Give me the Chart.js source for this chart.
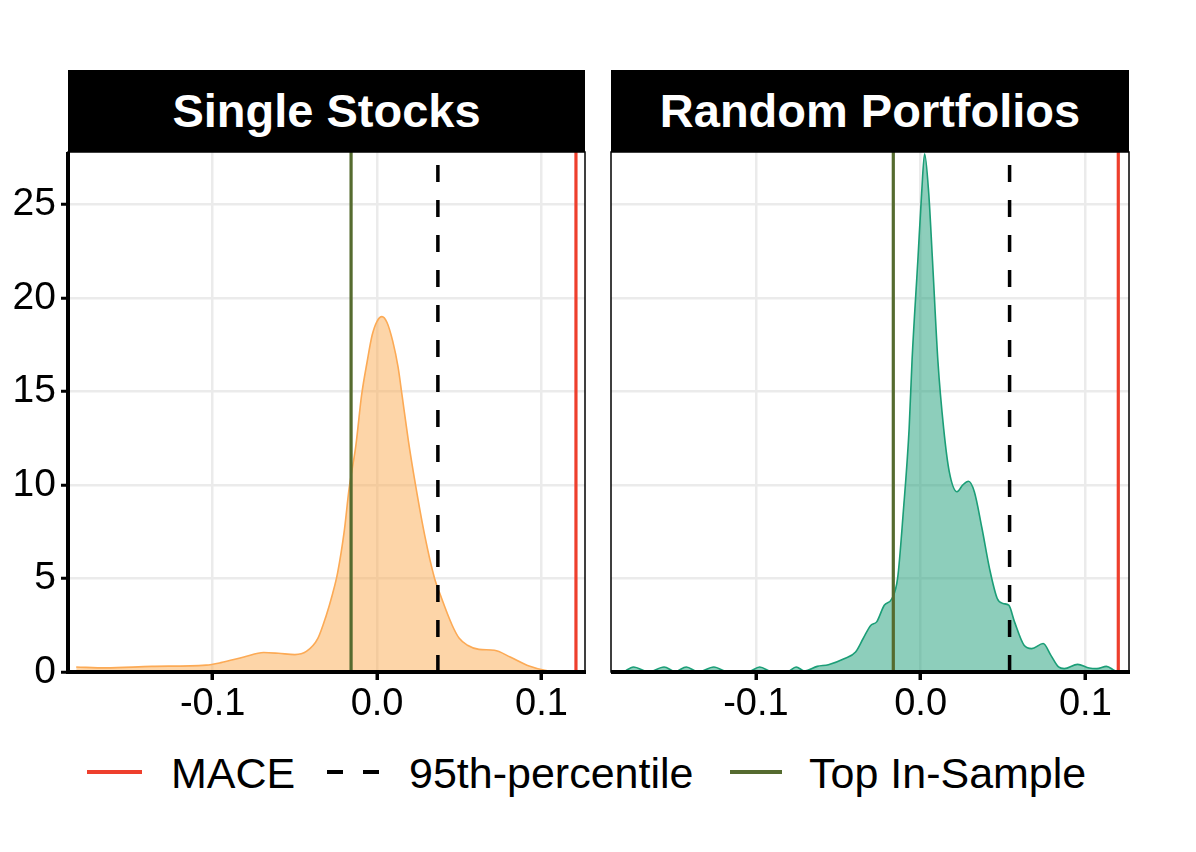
<!DOCTYPE html>
<html>
<head>
<meta charset="utf-8">
<script src="https://cdn.jsdelivr.net/npm/chart.js@4.4.1/dist/chart.umd.min.js"></script>
<style>
  html, body { margin: 0; padding: 0; background: #ffffff; }
  #wrap { position: relative; width: 1196px; height: 852px; overflow: hidden; font-family: "Liberation Sans", Arial, Helvetica, sans-serif; }
  .strip { position: absolute; top: 70px; height: 82px; background: #000; color: #fff; font-weight: bold; font-size: 47px; line-height: 82px; text-align: center; }
  canvas { position: absolute; }
  .leg { position: absolute; top: 750px; height: 46px; line-height: 46px; font-size: 43px; color: #000; white-space: nowrap; }
  .key { position: absolute; height: 4px; top: 770px; }
</style>
</head>
<body>
<div id="wrap">
  <div class="strip" style="left:68px;width:517px;">Single Stocks</div>
  <div class="strip" style="left:611px;width:518px;">Random Portfolios</div>
  <canvas id="c1" width="595" height="590" style="left:0px;top:140px;"></canvas>
  <canvas id="c2" width="540" height="590" style="left:600px;top:140px;"></canvas>

  <div class="key" style="left:87px;width:55px;background:#EE3F2D;"></div>
  <div class="leg" style="left:171px;">MACE</div>
  <div class="key" style="left:327px;width:16px;background:#000;"></div>
  <div class="key" style="left:363px;width:16px;background:#000;"></div>
  <div class="leg" style="left:409px;">95th-percentile</div>
  <div class="key" style="left:730px;width:52px;background:#556B2F;"></div>
  <div class="leg" style="left:809px;">Top In-Sample</div>
</div>
<script>
// ---- data ----
const panelTitles = ["Single Stocks", "Random Portfolios"];
const xTickValues = [-0.1, 0.0, 0.1];
const yTickValues = [0, 5, 10, 15, 20, 25];

// Single Stocks density
const singleX = [-0.183, -0.165, -0.137, -0.104, -0.095, -0.081, -0.069, -0.060, -0.050, -0.043,
  -0.036, -0.031, -0.027, -0.024, -0.020, -0.017, -0.0129, -0.0094, -0.0060, -0.003,
  0.0, 0.003, 0.006, 0.0095, 0.0128, 0.0152, 0.019, 0.0234, 0.029, 0.035,
  0.0386, 0.0457, 0.050, 0.055, 0.062, 0.0714, 0.081, 0.0925, 0.102, 0.108];
const singleY = [0.27, 0.22, 0.30, 0.37, 0.50, 0.80, 1.04, 1.00, 0.93, 1.10,
  1.80, 3.0, 4.2, 5.3, 7.5, 9.8, 12.1, 14.8, 16.6, 18.0,
  18.75, 19.0, 18.7, 17.7, 16.3, 14.8, 12.4, 10.0, 7.3, 5.0,
  4.1, 2.5, 1.8, 1.43, 1.21, 1.16, 0.80, 0.32, 0.09, 0.02];

// Random Portfolios density
const randomX = [-0.180, -0.1744, -0.165, -0.1558, -0.149, -0.1423, -0.135, -0.1256, -0.117, -0.105,
  -0.0977, -0.090, -0.081, -0.0756, -0.0705, -0.0628, -0.056, -0.0465, -0.0395, -0.0349,
  -0.0302, -0.0267, -0.0221, -0.0174, -0.014, -0.0105, -0.007, -0.0052, -0.0017, 0.0006,
  0.0024, 0.0049, 0.0072, 0.0105, 0.014, 0.0174, 0.0221, 0.0256, 0.029, 0.0326,
  0.0372, 0.0419, 0.0465, 0.050, 0.0535, 0.057, 0.0628, 0.0674, 0.0744, 0.079,
  0.0837, 0.0872, 0.0953, 0.1023, 0.107, 0.1128, 0.1174, 0.119];
const randomY = [0.02, 0.27, 0.0, 0.27, 0.02, 0.27, 0.0, 0.27, 0.0, 0.0,
  0.27, 0.0, 0.0, 0.27, 0.05, 0.30, 0.39, 0.71, 1.07, 1.79,
  2.5, 2.68, 3.57, 3.93, 5.0, 8.6, 13.0, 16.7, 22.0, 25.6,
  27.7, 25.6, 22.0, 16.6, 13.0, 10.7, 9.64, 10.0, 10.2, 9.64,
  7.7, 5.5, 3.93, 3.66, 3.57, 2.68, 1.43, 1.25, 1.52, 0.9,
  0.27, 0.18, 0.41, 0.21, 0.18, 0.30, 0.09, 0.01];

// reference lines: [Single Stocks, Random Portfolios]
const maceValues = [0.121, 0.120];
const pct95Values = [0.037, 0.054];
const topInSampleValues = [-0.0158, -0.0166];

const X_MIN = -0.188, X_MAX = 0.1265, Y_MAX = 27.8;

// ---- drawing ----
const FONT = '"Liberation Sans", Arial, Helvetica, sans-serif';

const frame = {
  id: 'frame',
  afterDraw(chart, args, opts) {
    const a = chart.chartArea, ctx = chart.ctx;
    ctx.save();
    ctx.strokeStyle = '#000';
    ctx.lineWidth = 1.5;
    ctx.strokeRect(a.left, a.top, a.right - a.left, a.bottom - a.top);
    ctx.lineWidth = 4;
    ctx.beginPath();
    ctx.moveTo(a.left - (opts.leftAxis ? 2 : 0), a.bottom);
    ctx.lineTo(a.right + 1, a.bottom);
    if (opts.leftAxis) {
      ctx.moveTo(a.left, a.top);
      ctx.lineTo(a.left, a.bottom + 2);
    }
    ctx.stroke();
    ctx.restore();
  }
};

function vline(v, color, width, dash) {
  return {
    type: 'line',
    data: [{x: v, y: 0}, {x: v, y: Y_MAX}],
    borderColor: color,
    borderWidth: width,
    borderDash: dash || [],
    pointRadius: 0,
    fill: false,
    tension: 0,
    order: 0
  };
}

function makeChart(id, idx, xs, ys, stroke, fillColor, showY, pad) {
  const pts = xs.map((x, i) => ({x: x, y: ys[i]}));
  return new Chart(document.getElementById(id), {
    type: 'line',
    data: {
      datasets: [
        vline(maceValues[idx], '#EE3F2D', 3.2),
        vline(pct95Values[idx], '#000000', 3.5, [17, 18]),
        vline(topInSampleValues[idx], '#556B2F', 3.2),
        {
          label: panelTitles[idx],
          data: pts,
          borderColor: stroke,
          backgroundColor: fillColor,
          borderWidth: 1.6,
          pointRadius: 0,
          fill: 'origin',
          cubicInterpolationMode: 'monotone',
          order: 5
        }
      ]
    },
    options: {
      responsive: false,
      devicePixelRatio: 1,
      animation: false,
      events: [],
      layout: { padding: pad },
      plugins: { legend: { display: false }, tooltip: { enabled: false }, frame: { leftAxis: showY } },
      scales: {
        x: {
          type: 'linear',
          min: X_MIN, max: X_MAX,
          afterBuildTicks: s => { s.ticks = xTickValues.map(v => ({value: v})); },
          afterFit: s => { s.height = 58; s.paddingLeft = 0; s.paddingRight = 0; },
          ticks: {
            color: '#000',
            font: { family: FONT, size: 38 },
            padding: 2,
            maxRotation: 0,
            callback: v => Number(v).toFixed(1)
          },
          grid: { color: '#ebebeb', lineWidth: 2.5, tickLength: 8, tickColor: '#000', tickWidth: 3.5, drawTicks: true },
          border: { display: false }
        },
        y: {
          type: 'linear',
          min: 0, max: Y_MAX,
          afterBuildTicks: s => { s.ticks = yTickValues.map(v => ({value: v})); },
          afterFit: s => { s.width = showY ? 68 : 0; s.paddingTop = 0; s.paddingBottom = 0; },
          ticks: {
            display: showY,
            color: '#000',
            font: { family: FONT, size: 39 },
            padding: 5
          },
          grid: { color: '#ebebeb', lineWidth: 2.5, tickLength: 7, tickColor: '#000', tickWidth: 3, drawTicks: showY },
          border: { display: false }
        }
      }
    },
    plugins: [frame]
  });
}

makeChart('c1', 0, singleX, singleY, '#FCAA55', 'rgba(251,172,82,0.5)', true, {top: 12, right: 10, left: 0, bottom: 0});
makeChart('c2', 1, randomX, randomY, '#1B9E77', 'rgba(27,158,119,0.5)', false, {top: 12, right: 11, left: 11, bottom: 0});
</script>
</body>
</html>
